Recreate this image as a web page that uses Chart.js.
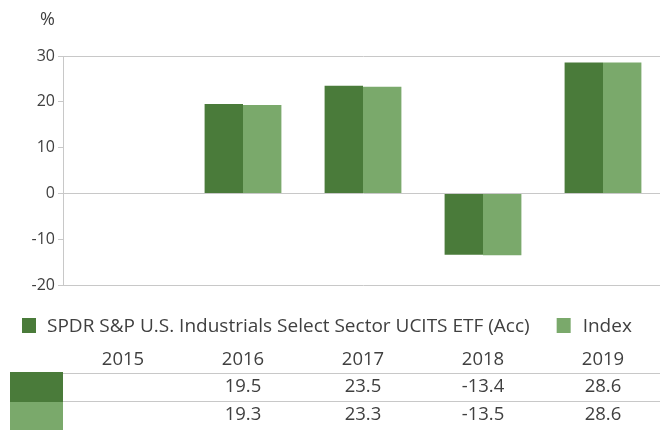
<!DOCTYPE html>
<html>
<head>
<meta charset="utf-8">
<script src="https://cdn.jsdelivr.net/npm/chart.js@4.4.0/dist/chart.umd.min.js"></script>
<style>
    html, body { margin: 0; padding: 0; background: #fff; overflow: hidden; }
    #wrap { position: relative; width: 663px; height: 430px; }
</style>
</head>
<body>
<div id="wrap"><canvas id="perfChart"></canvas></div>
<script>
// Annual performance, SPDR fund vs index
const years = ['2015', '2016', '2017', '2018', '2019'];
const fundLabel = 'SPDR S&P U.S. Industrials Select Sector UCITS ETF (Acc)';
const indexLabel = 'Index';
const fundValues = [null, 19.5, 23.5, -13.4, 28.6];
const indexValues = [null, 19.3, 23.3, -13.5, 28.6];
const yTicks = [-20, -10, 0, 10, 20, 30];

const darkGreen = '#4a7b3a';
const lightGreen = '#7aa96b';
const lineGrey = '#c8c8c8';
const textGrey = '#404040';
const fontFamily = "'Open Sans', sans-serif";

function fmt(v) {
    return v === null ? '' : v.toFixed(1);
}

// legend + data table drawn under the plot, aligned on the x scale
const tablePlugin = {
    id: 'perfTable',
    afterDraw(chart) {
        const ctx = chart.ctx;
        const x = chart.scales.x;
        const area = chart.chartArea;
        const right = chart.width;
        ctx.save();

        // legend
        ctx.font = '19px ' + fontFamily;
        ctx.fillStyle = darkGreen;
        ctx.fillRect(22, 318, 14, 15);
        ctx.fillStyle = textGrey;
        ctx.textBaseline = 'middle';
        ctx.textAlign = 'left';
        ctx.fillText(fundLabel, 47, 327);
        const w = ctx.measureText(fundLabel).width;
        ctx.fillStyle = lightGreen;
        ctx.fillRect(47 + w + 27, 318, 14, 15);
        ctx.fillStyle = textGrey;
        ctx.fillText(indexLabel, 47 + w + 53, 327);

        // table
        ctx.fillStyle = darkGreen;
        ctx.fillRect(10, 372, 53, 30);
        ctx.fillStyle = lightGreen;
        ctx.fillRect(10, 402, 53, 28);

        ctx.strokeStyle = lineGrey;
        ctx.lineWidth = 1;
        ctx.beginPath();
        ctx.moveTo(area.left, 373.5);
        ctx.lineTo(right, 373.5);
        ctx.moveTo(area.left, 401.5);
        ctx.lineTo(right, 401.5);
        ctx.stroke();

        ctx.font = '18.5px ' + fontFamily;
        ctx.fillStyle = textGrey;
        ctx.textAlign = 'center';
        years.forEach((yr, i) => {
            const cx = x.getPixelForValue(i);
            ctx.fillText(yr, cx, 360);
            ctx.fillText(fmt(fundValues[i]), cx, 387);
            ctx.fillText(fmt(indexValues[i]), cx, 415);
        });

        // unit label
        ctx.font = '18px ' + fontFamily;
        ctx.textAlign = 'left';
        ctx.fillText('%', 40, 20);
        ctx.restore();
    }
};

new Chart(document.getElementById('perfChart'), {
    type: 'bar',
    data: {
        labels: years,
        datasets: [{
            label: fundLabel,
            data: fundValues,
            backgroundColor: darkGreen,
            borderWidth: 0
        }, {
            label: indexLabel,
            data: indexValues,
            backgroundColor: lightGreen,
            borderWidth: 0
        }]
    },
    options: {
        responsive: true,
        maintainAspectRatio: false,
        animation: false,
        layout: {
            padding: { top: 56, bottom: 137, left: 0, right: 0 }
        },
        datasets: {
            bar: {
                categoryPercentage: 0.64,
                barPercentage: 1
            }
        },
        plugins: {
            legend: { display: false },
            tooltip: { enabled: false }
        },
        scales: {
            x: {
                grid: { display: false },
                border: { display: false },
                ticks: { display: false }
            },
            y: {
                min: -20,
                max: 30,
                afterBuildTicks: (scale) => {
                    scale.ticks = yTicks.map(v => ({ value: v }));
                },
                afterFit: (scale) => {
                    scale.width = 63;
                },
                grid: {
                    color: (c) => (c.tick && [30, 0, -20].includes(c.tick.value)) ? lineGrey : 'rgba(0,0,0,0)',
                    tickColor: lineGrey,
                    tickLength: 5
                },
                border: { display: true, color: lineGrey },
                ticks: {
                    color: textGrey,
                    padding: 3,
                    font: { family: fontFamily, size: 16 }
                }
            }
        }
    },
    plugins: [tablePlugin]
});
</script>
</body>
</html>
